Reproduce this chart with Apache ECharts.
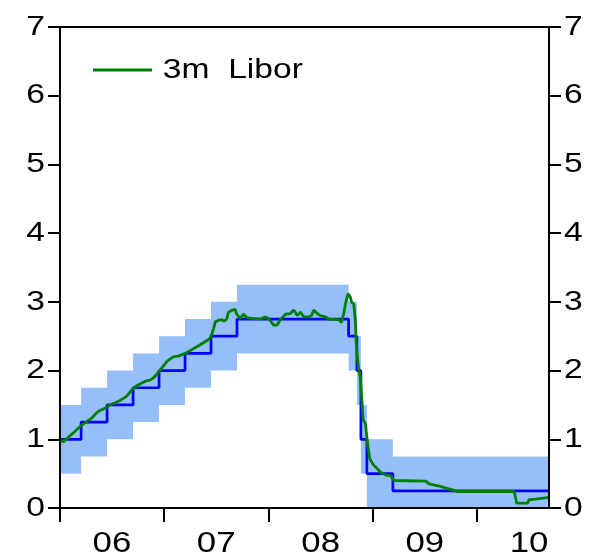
<!DOCTYPE html>
<html>
<head>
<meta charset="utf-8">
<script src="https://cdn.jsdelivr.net/npm/echarts@6/dist/echarts.min.js"></script>
<style>
  html, body { margin: 0; padding: 0; background: #ffffff; }
  #chart { width: 605px; height: 558px; }
</style>
</head>
<body>
<div id="chart"></div>
<script>
// SNB policy: midpoint of the 3m Libor target range, with the range bounds
const policyDates = ['2006-01-01', '2006-03-16', '2006-06-15', '2006-09-14', '2006-12-14',
  '2007-03-15', '2007-06-14', '2007-09-13', '2008-10-08', '2008-11-06', '2008-11-20',
  '2008-12-11', '2009-03-12', '2010-09-10'];
const policyMid = [1.00, 1.25, 1.50, 1.75, 2.00, 2.25, 2.50, 2.75, 2.50, 2.00, 1.00, 0.50, 0.25, 0.25];
const rangeLow  = [0.50, 0.75, 1.00, 1.25, 1.50, 1.75, 2.00, 2.25, 2.00, 1.50, 0.50, 0.00, 0.00, 0.00];
const rangeHigh = [1.50, 1.75, 2.00, 2.25, 2.50, 2.75, 3.00, 3.25, 3.00, 2.50, 1.50, 1.00, 0.75, 0.75];

// 3m CHF Libor
const liborDates = ['2006-01-02', '2006-01-12', '2006-02-05', '2006-02-21', '2006-03-16', '2006-04-01',
  '2006-04-20', '2006-05-08', '2006-05-21', '2006-06-07', '2006-06-18', '2006-06-30', '2006-07-13',
  '2006-07-29', '2006-08-21', '2006-09-08', '2006-09-17', '2006-10-01', '2006-10-15', '2006-10-30',
  '2006-11-12', '2006-11-23', '2006-12-03', '2006-12-16', '2006-12-28', '2007-01-10', '2007-01-22',
  '2007-02-02', '2007-02-19', '2007-03-15', '2007-03-29', '2007-04-14', '2007-04-27', '2007-05-13',
  '2007-05-28', '2007-06-11', '2007-06-18', '2007-06-23', '2007-06-29', '2007-07-09', '2007-07-22',
  '2007-07-30', '2007-08-08', '2007-08-14', '2007-08-29', '2007-09-07', '2007-09-12', '2007-09-24',
  '2007-10-06', '2007-10-18', '2007-11-05', '2007-12-03', '2007-12-21', '2008-01-01', '2008-01-08',
  '2008-01-19', '2008-01-31', '2008-02-12', '2008-03-01', '2008-03-18', '2008-03-30', '2008-04-11',
  '2008-04-22', '2008-05-04', '2008-05-21', '2008-05-31', '2008-06-08', '2008-06-20', '2008-07-01',
  '2008-07-19', '2008-07-30', '2008-09-04', '2008-09-13', '2008-09-21', '2008-09-27', '2008-10-06',
  '2008-10-14', '2008-10-18', '2008-10-26', '2008-11-01', '2008-11-03', '2008-11-07', '2008-11-12',
  '2008-11-18', '2008-11-24', '2008-11-28', '2008-12-06', '2008-12-09', '2008-12-14', '2008-12-21',
  '2008-12-30', '2009-01-05', '2009-01-17', '2009-01-28', '2009-02-15', '2009-03-04', '2009-03-16',
  '2009-03-22', '2009-07-05', '2009-07-17', '2009-08-21', '2009-09-13', '2009-10-01', '2009-10-24',
  '2010-01-14', '2010-05-11', '2010-05-20', '2010-06-27', '2010-07-02', '2010-07-26', '2010-08-01',
  '2010-09-10'];
const liborValues = [1.00, 0.96, 1.05, 1.11, 1.20, 1.25,
  1.30, 1.38, 1.42, 1.45, 1.48, 1.51, 1.53,
  1.56, 1.62, 1.71, 1.75, 1.79, 1.82, 1.85,
  1.86, 1.89, 1.93, 2.00, 2.06, 2.13, 2.17,
  2.20, 2.21, 2.25, 2.28, 2.32, 2.35, 2.39,
  2.43, 2.47, 2.55, 2.61, 2.71, 2.73, 2.74,
  2.72, 2.75, 2.85, 2.88, 2.89, 2.82, 2.76,
  2.82, 2.77, 2.76, 2.75, 2.78, 2.76, 2.73,
  2.66, 2.66, 2.74, 2.82, 2.83, 2.88, 2.80,
  2.85, 2.78, 2.78, 2.80, 2.88, 2.83, 2.80,
  2.78, 2.75, 2.74, 2.70, 2.83, 2.97, 3.12,
  3.07, 3.00, 2.97, 2.71, 2.46, 2.22, 2.03,
  1.90, 1.55, 1.28, 1.23, 1.11, 0.92, 0.72,
  0.65, 0.62, 0.57, 0.52, 0.48, 0.47, 0.40,
  0.39, 0.39, 0.35, 0.32, 0.29, 0.27, 0.24,
  0.24, 0.24, 0.07, 0.07, 0.12, 0.13, 0.155,
  0.155];

// Axis ticks: year boundaries; year labels centred mid-year
const yearTicks = ['2006-01-01', '2007-01-01', '2008-01-01', '2009-01-01', '2010-01-01'];
const yearLabelDates = ['2006-07-02', '2007-07-02', '2008-07-02', '2009-07-02', '2010-07-02'];
const yearLabels = ['06', '07', '08', '09', '10'];

const LIBOR_NAME = '3m  Libor';
const FONT = '"Liberation Sans", Arial, Helvetica, sans-serif';
const TEXT_STRETCH = 1.2;   // wide-set lettering
const t = d => Date.UTC(+d.slice(0, 4), +d.slice(5, 7) - 1, +d.slice(8, 10));

const tickTimes = yearTicks.map(t);
const labelTimes = yearLabelDates.map(t);
const labelByTime = {};
labelTimes.forEach((v, i) => { labelByTime[v] = yearLabels[i]; });

const lowData = policyDates.map((d, i) => [t(d), rangeLow[i]]);
const highData = policyDates.map((d, i) => [t(d), rangeHigh[i]]);
const midData = policyDates.map((d, i) => [t(d), policyMid[i]]);
const liborData = liborDates.map((d, i) => [t(d), liborValues[i]]);

const axisLine = { show: true, lineStyle: { color: '#000', width: 2 } };
const yAxisCommon = {
  type: 'value', min: 0, max: 7, interval: 1,
  axisLine: axisLine,
  axisTick: { show: true, length: 12, lineStyle: { color: '#000', width: 2 } },
  axisLabel: { color: '#000', fontFamily: FONT, fontSize: 28, margin: 15 },
  splitLine: { show: false },
  z: 10
};

const chart = echarts.init(document.getElementById('chart'), null, { renderer: 'canvas' });
chart.setOption({
  animation: false,
  backgroundColor: '#ffffff',
  grid: {
    left: 60, right: 56, top: 27, bottom: 48,
    show: true, borderColor: '#000', borderWidth: 2, backgroundColor: 'transparent', z: 10
  },
  legend: {
    data: [{ name: LIBOR_NAME, icon: 'rect' }],
    left: 93, top: 56, padding: 0,
    itemWidth: 59, itemHeight: 3,
    textStyle: { color: '#000', fontFamily: FONT, fontSize: 28 },
    selectedMode: false
  },
  xAxis: {
    type: 'value',
    min: t('2006-01-01'), max: t('2010-09-10'),
    axisLine: axisLine,
    axisTick: { show: true, length: 14, customValues: tickTimes, lineStyle: { color: '#000', width: 2 } },
    axisLabel: {
      customValues: labelTimes,
      formatter: v => labelByTime[v] || '',
      color: '#000', fontFamily: FONT, fontSize: 29, margin: 21
    },
    splitLine: { show: false },
    z: 10
  },
  yAxis: [
    Object.assign({}, yAxisCommon, { position: 'left' }),
    Object.assign({}, yAxisCommon, { position: 'right' })
  ],
  series: [
    {
      // target range: filled down from the upper bound ...
      name: 'range high', type: 'line', step: 'end',
      data: highData, symbol: 'none', lineStyle: { width: 0, opacity: 0 },
      areaStyle: { color: '#96bffa', opacity: 1 },
      silent: true, z: 1
    },
    {
      // ... and cleared below the lower bound
      name: 'range low', type: 'line', step: 'end',
      data: lowData, symbol: 'none', lineStyle: { width: 0, opacity: 0 },
      areaStyle: { color: '#ffffff', opacity: 1 },
      silent: true, z: 2
    },
    {
      name: 'target', type: 'line', step: 'end',
      data: midData, symbol: 'none',
      lineStyle: { color: '#0000ff', width: 2.7 }, z: 3
    },
    {
      name: LIBOR_NAME, type: 'line',
      data: liborData, symbol: 'none',
      itemStyle: { color: '#008000' },
      lineStyle: { color: '#008000', width: 2.8 }, z: 4
    }
  ]
});

// Widen every text element horizontally about its own anchor point;
// the legend label sits a little closer to its key
(function stretchText() {
  const walk = el => {
    if (el.type === 'text') {
      el.scaleX = TEXT_STRETCH;
      if (el.style && el.style.text === LIBOR_NAME) el.x -= 7;
      el.markRedraw();
    }
    if (el.children) el.children().forEach(walk);
  };
  chart.getZr().storage.getRoots().forEach(walk);
  chart.getZr().refreshImmediately();
})();
</script>
</body>
</html>
